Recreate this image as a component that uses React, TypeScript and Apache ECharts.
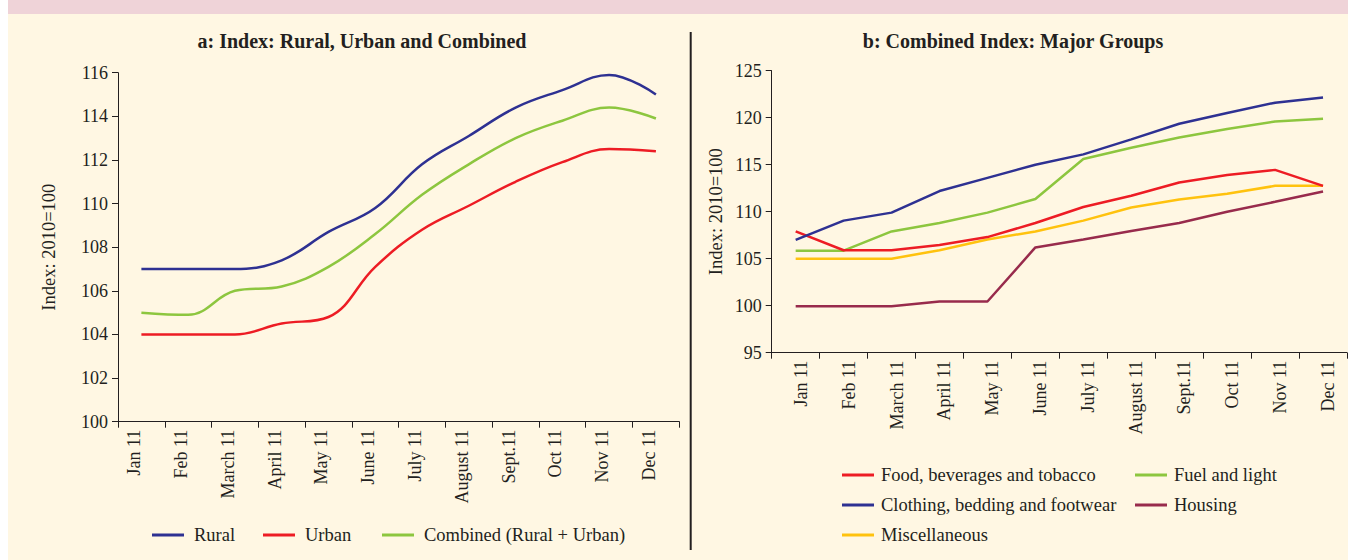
import React, { useEffect, useRef } from "react";
import * as echarts from "echarts";

const months = ["Jan 11", "Feb 11", "March 11", "April 11", "May 11", "June 11", "July 11", "August 11", "Sept.11", "Oct 11", "Nov 11", "Dec 11"];

const rural = [107.0, 107.0, 107.0, 107.4, 108.7, 109.8, 111.8, 113.1, 114.4, 115.2, 115.9, 115.0];
const urban = [104.0, 104.0, 104.0, 104.5, 104.8, 107.1, 108.8, 109.9, 111.0, 111.9, 112.5, 112.4];
const combined = [105.0, 104.9, 106.0, 106.2, 107.1, 108.6, 110.4, 111.8, 113.0, 113.8, 114.4, 113.9];

const food = [107.9, 105.9, 105.9, 106.45, 107.3, 108.8, 110.5, 111.7, 113.1, 113.9, 114.45, 112.75];
const clothing = [107.0, 109.05, 109.9, 112.2, 113.6, 115.0, 116.1, 117.7, 119.35, 120.5, 121.6, 122.15];
const fuel = [105.85, 105.85, 107.9, 108.8, 109.9, 111.35, 115.6, 116.8, 117.9, 118.8, 119.6, 119.9];
const housing = [99.95, 99.95, 99.95, 100.45, 100.45, 106.2, 107.05, 107.95, 108.8, 110.0, 111.05, 112.15];
const misc = [105.0, 105.0, 105.0, 105.9, 107.05, 107.9, 109.05, 110.45, 111.3, 111.9, 112.75, 112.75];

const FONT = "'Liberation Serif', 'Times New Roman', serif";
const TXT = "#231F20";

const C_BLUE = "#2E3192";
const C_RED = "#ED1C24";
const C_GREEN = "#8DC63F";
const C_MAROON = "#982B4C";
const C_YELLOW = "#FFC20E";

export default function App() {
  const ref = useRef<HTMLDivElement>(null);

  useEffect(() => {
    if (!ref.current) return;
    const chart = echarts.init(ref.current, null, { renderer: "svg" });

    const catAxis = (gridIndex: number, vAlign: string, lh: number) => ({
      type: "category",
      gridIndex,
      data: months,
      boundaryGap: true,
      axisLine: { lineStyle: { color: TXT, width: 1 } },
      axisTick: { show: true, length: 6, lineStyle: { color: TXT } },
      axisLabel: {
        interval: 0,
        rotate: 90,
        margin: 8,
        color: TXT,
        fontFamily: FONT,
        fontSize: 18,
        verticalAlign: vAlign,
        lineHeight: lh,
      },
      splitLine: { show: false },
    });

    const valAxis = (gridIndex: number, min: number, max: number, interval: number, nameGap: number) => ({
      type: "value",
      gridIndex,
      min,
      max,
      interval,
      name: "Index: 2010=100",
      nameLocation: "middle",
      nameRotate: 90,
      nameGap,
      nameTextStyle: { color: TXT, fontFamily: FONT, fontSize: 18.5 },
      axisLine: { show: true, lineStyle: { color: TXT, width: 1 } },
      axisTick: { show: true, length: 6, lineStyle: { color: TXT } },
      axisLabel: { margin: 10, color: TXT, fontFamily: FONT, fontSize: 18 },
      splitLine: { show: false },
    });

    const lineSeries = (name: string, data: number[], color: string, xi: number, smooth: boolean | number) => ({
      type: "line",
      name,
      data,
      xAxisIndex: xi,
      yAxisIndex: xi,
      smooth,
      showSymbol: false,
      symbol: "none",
      lineStyle: { color, width: 2.5 },
      itemStyle: { color },
    });

    const legendItem = (name: string, left: number, centerY: number, gap: number) => ({
      data: [name],
      left,
      top: centerY - 10,
      padding: 0,
      icon: "rect",
      itemWidth: 32,
      itemHeight: 3,
      itemGap: 0,
      selectedMode: false,
      textStyle: { color: TXT, fontFamily: FONT, fontSize: 18.5, padding: [0, 0, 0, gap], lineHeight: 20 },
    });

    const option: any = {
      animation: false,
      graphic: [
        { type: "rect", shape: { x: 8, y: 0, width: 1340, height: 14 }, style: { fill: "#EFD3D8" }, z: -10, silent: true },
        { type: "rect", shape: { x: 8, y: 14, width: 1340, height: 546 }, style: { fill: "#FFF7E3" }, z: -10, silent: true },
        { type: "line", shape: { x1: 690.7, y1: 32, x2: 690.7, y2: 550 }, style: { stroke: TXT, lineWidth: 2 }, z: -5, silent: true },
        {
          type: "text",
          x: 362,
          y: 41,
          style: {
            text: "a: Index: Rural, Urban and Combined",
            textAlign: "center",
            textVerticalAlign: "middle",
            fill: TXT,
            font: `bold 20px ${FONT}`,
          },
        },
        {
          type: "text",
          x: 1013,
          y: 41,
          style: {
            text: "b: Combined Index: Major Groups",
            textAlign: "center",
            textVerticalAlign: "middle",
            fill: TXT,
            font: `bold 20px ${FONT}`,
          },
        },
      ],
      grid: [
        { left: 118, top: 72.7, width: 561.3, height: 349, containLabel: false },
        { left: 771.7, top: 70.7, width: 575.3, height: 282, containLabel: false },
      ],
      xAxis: [catAxis(0, "bottom", 14), catAxis(1, "top", 10)],
      yAxis: [valAxis(0, 100, 116, 2, 60), valAxis(1, 95, 125, 5, 46)],
      legend: [
        legendItem("Rural", 152, 535, 5),
        legendItem("Urban", 263, 535, 5),
        legendItem("Combined (Rural + Urban)", 382, 535, 5),
        legendItem("Food, beverages and tobacco", 842, 475, 2),
        legendItem("Clothing, bedding and footwear", 842, 505, 2),
        legendItem("Miscellaneous", 842, 535, 2),
        legendItem("Fuel and light", 1135, 475, 2),
        legendItem("Housing", 1135, 505, 2),
      ],
      series: [
        lineSeries("Rural", rural, C_BLUE, 0, 0.4),
        lineSeries("Urban", urban, C_RED, 0, 0.4),
        lineSeries("Combined (Rural + Urban)", combined, C_GREEN, 0, 0.4),
        lineSeries("Housing", housing, C_MAROON, 1, false),
        lineSeries("Miscellaneous", misc, C_YELLOW, 1, false),
        lineSeries("Fuel and light", fuel, C_GREEN, 1, false),
        lineSeries("Food, beverages and tobacco", food, C_RED, 1, false),
        lineSeries("Clothing, bedding and footwear", clothing, C_BLUE, 1, false),
      ],
    };

    chart.setOption(option);
    return () => chart.dispose();
  }, []);

  return (
    <div style={{ position: "absolute", left: 0, top: 0, width: 1348, height: 560, background: "#fff" }}>
      <div ref={ref} style={{ width: 1348, height: 560 }} />
    </div>
  );
}
